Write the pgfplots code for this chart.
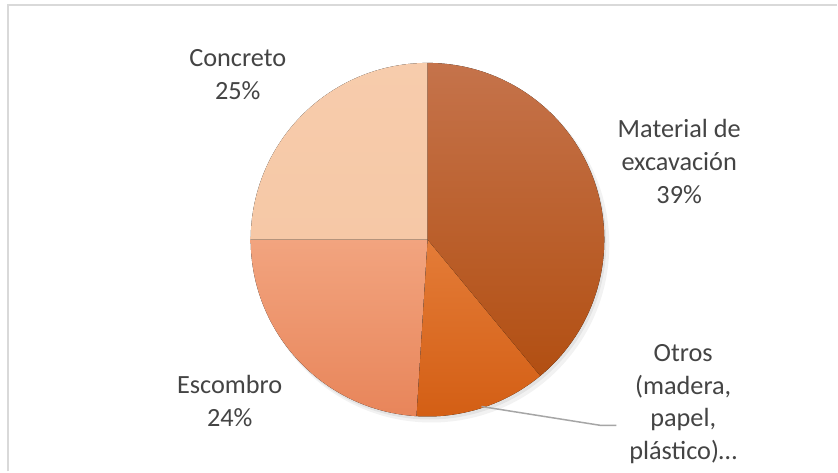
\documentclass[border=0pt]{standalone}
\usepackage{pgfplots}
\pgfplotsset{compat=1.18}
\usepackage{pgfplotstable}
\usepackage{fontspec}
\setmainfont{Carlito}
\definecolor{txt}{HTML}{444444}
\definecolor{framegray}{HTML}{D9D9D9}
\definecolor{leader}{HTML}{A6A6A6}
% slice colours (top / bottom of gradient)
\definecolor{st0}{HTML}{C5734B}
\definecolor{sb0}{HTML}{B24F12}
\definecolor{st1}{HTML}{E47C38}
\definecolor{sb1}{HTML}{D35E14}
\definecolor{st2}{HTML}{F2A47F}
\definecolor{sb2}{HTML}{E8855A}
\definecolor{st3}{HTML}{F7CCAC}
\definecolor{sb3}{HTML}{F6C8A6}
\pgfplotstableread{
idx pct
0 39
1 12
2 24
3 25
}\piedata
\begin{document}
\begin{tikzpicture}
\begin{axis}[x=0.5bp,y=0.5bp,y dir=reverse,xmin=0,xmax=838,ymin=0,ymax=472,
  hide axis,clip=false,scale only axis]
\fill[white] (axis cs:0,0) rectangle (axis cs:838,472);
\draw[framegray, line width=1bp] (axis cs:8.5,472) -- (axis cs:8.5,5.5) -- (axis cs:838,5.5);
% soft shadow
\fill[black, opacity=0.05] (axis cs:432,245) circle[radius=89bp];
\fill[black, opacity=0.06] (axis cs:430,243) circle[radius=88.5bp];
\def\cum{0}
\pgfplotsforeachungrouped \i in {0,...,3}{%
  \pgfplotstablegetelem{\i}{pct}\of\piedata
  \let\p\pgfplotsretval
  \pgfmathsetmacro\aS{90-3.6*\cum}%
  \pgfmathsetmacro\aE{90-3.6*(\cum+\p)}%
  \pgfmathsetmacro\cum{\cum+\p}%
  \edef\cmd{\noexpand\fill[top color=st\i, bottom color=sb\i] (axis cs:428,240) -- ++(\aS:88.5bp) arc[start angle=\aS, end angle=\aE, radius=88.5bp] -- cycle;}%
  \cmd
}
\draw[leader, line width=0.75bp] (axis cs:482,407) -- (axis cs:602,426) -- (axis cs:617,426);
\tikzset{lbl/.style={align=center, text=txt, font=\fontsize{13.2}{16.5}\selectfont, inner sep=0pt}}
\node[lbl] at (axis cs:238,75) {Concreto\\25\%};
\node[lbl] at (axis cs:680,162) {Material de\\excavación\\39\%};
\node[lbl] at (axis cs:684,404.5) {Otros\\(madera,\\papel,\\plástico)…};
\node[lbl] at (axis cs:230,401.5) {Escombro\\24\%};
\end{axis}
\end{tikzpicture}
\end{document}
